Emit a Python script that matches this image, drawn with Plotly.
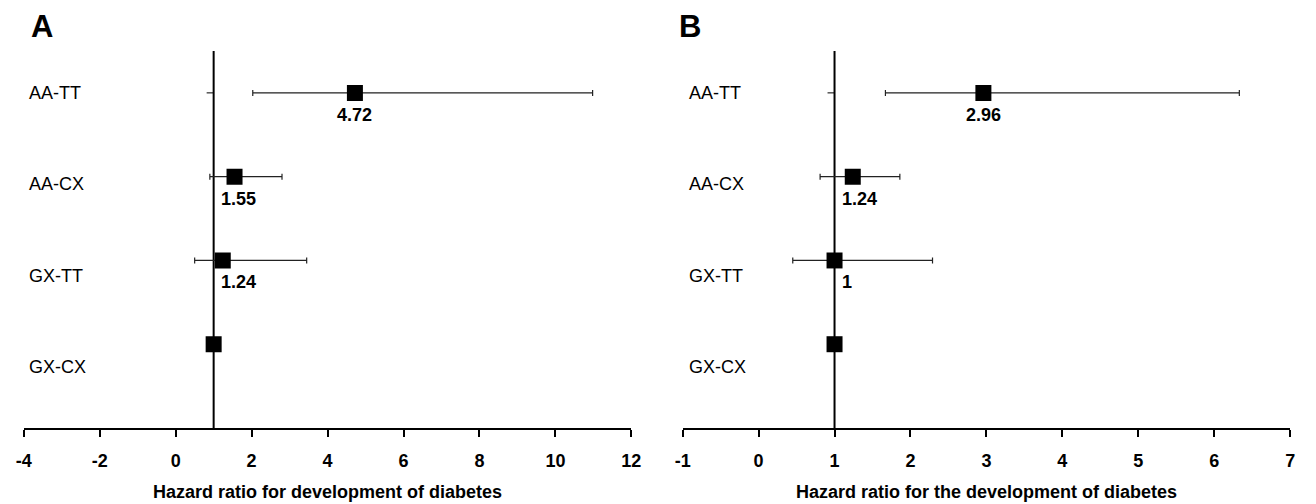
import plotly.graph_objects as go

# ---- data ----
categories = ["AA-TT", "AA-CX", "GX-TT", "GX-CX"]

a_hr = [4.72, 1.55, 1.24, 1.0]
a_lower = [2.03, 0.90, 0.50, None]
a_upper = [10.98, 2.80, 3.45, None]
a_labels = ["4.72", "1.55", "1.24", ""]

b_hr = [2.96, 1.24, 1.0, 1.0]
b_lower = [1.67, 0.81, 0.45, None]
b_upper = [6.33, 1.86, 2.29, None]
b_labels = ["2.96", "1.24", "1", ""]

a_ticks = [-4, -2, 0, 2, 4, 6, 8, 10, 12]
b_ticks = [-1, 0, 1, 2, 3, 4, 5, 6, 7]
a_title = "Hazard ratio for development of diabetes"
b_title = "Hazard ratio for the development of diabetes"
ref_value = 1

W, H = 1316, 504
FONT = "Liberation Sans, Arial, sans-serif"

n = len(categories)
rows = [n - i for i in range(n)]
label_rows = [n - i * 1.09 for i in range(n)]

fig = go.Figure()

panels = [
    dict(hr=a_hr, lo=a_lower, hi=a_upper, lab=a_labels, ticks=a_ticks,
         title=a_title, letter="A", xa="x", ya="y", dom=[16 / W, 632 / W],
         catx=19 / W, letx=21 / W),
    dict(hr=b_hr, lo=b_lower, hi=b_upper, lab=b_labels, ticks=b_ticks,
         title=b_title, letter="B", xa="x2", ya="y2", dom=[684 / W, 1300 / W],
         catx=688 / W, letx=678 / W),
]

ydom = [(H - 428) / H, (H - 51) / H]
annotations = []
shapes = []

for k, p in enumerate(panels):
    plus = [(h - v) if h is not None else 0 for v, h in zip(p["hr"], p["hi"])]
    minus = [(v - l) if l is not None else 0 for v, l in zip(p["hr"], p["lo"])]
    fig.add_trace(go.Scatter(
        x=p["hr"], y=rows, mode="markers",
        marker=dict(symbol="square", size=16, color="black"),
        error_x=dict(type="data", symmetric=False, array=plus, arrayminus=minus,
                     color="#222", thickness=1.2, width=3),
        xaxis=p["xa"], yaxis=p["ya"], showlegend=False, hoverinfo="skip",
    ))
    rng = [p["ticks"][0], p["ticks"][-1]]
    span = rng[1] - rng[0]
    # value labels
    for v, r, t in zip(p["hr"], rows, p["lab"]):
        if not t:
            continue
        if (v - ref_value) / span < 0.05:
            annotations.append(dict(x=ref_value, y=r, xref=p["xa"], yref=p["ya"],
                                    text=t, showarrow=False, xanchor="left",
                                    xshift=5, yshift=-22,
                                    font=dict(family=FONT, size=18, color="black", weight="bold")))
        else:
            annotations.append(dict(x=v, y=r, xref=p["xa"], yref=p["ya"],
                                    text=t, showarrow=False, xanchor="center",
                                    yshift=-22,
                                    font=dict(family=FONT, size=18, color="black", weight="bold")))
    # category labels
    for c, ly in zip(categories, label_rows):
        annotations.append(dict(x=p["catx"], y=ly, xref="paper", yref=p["ya"],
                                text=c, showarrow=False, xanchor="left", yanchor="middle",
                                font=dict(family=FONT, size=18, color="black")))
    # panel letter
    annotations.append(dict(x=p["letx"], y=(H - 26) / H, xref="paper", yref="paper",
                            text=p["letter"], showarrow=False, xanchor="left", yanchor="middle",
                            font=dict(family=FONT, size=31, color="black", weight="bold")))
    # axis title
    annotations.append(dict(x=(p["dom"][0] + p["dom"][1]) / 2, y=(H - 492) / H,
                            xref="paper", yref="paper", text=p["title"], showarrow=False,
                            xanchor="center", yanchor="middle",
                            font=dict(family=FONT, size=18, color="black", weight="bold")))
    # reference line
    shapes.append(dict(type="line", x0=ref_value, x1=ref_value, y0=0, y1=4.5,
                       xref=p["xa"], yref=p["ya"], layer="below",
                       line=dict(color="black", width=2)))
    # small tick on the reference line at the top row
    shapes.append(dict(type="line", xsizemode="pixel", xanchor=ref_value, x0=-7, x1=0,
                       y0=rows[0], y1=rows[0], xref=p["xa"], yref=p["ya"], layer="below",
                       line=dict(color="black", width=1)))

    xkey = "xaxis" if k == 0 else "xaxis2"
    ykey = "yaxis" if k == 0 else "yaxis2"
    fig.update_layout(**{
        xkey: dict(domain=p["dom"], range=rng, tickvals=p["ticks"],
                   ticktext=[str(t) for t in p["ticks"]],
                   showline=True, linecolor="black", linewidth=1.5,
                   ticks="outside", ticklen=7, tickwidth=1.5, tickcolor="black",
                   ticklabelstandoff=9,
                   showgrid=False, zeroline=False, anchor=p["ya"],
                   tickfont=dict(family=FONT, size=18, color="black", weight="bold")),
        ykey: dict(domain=ydom, range=[0, 4.5], visible=False, anchor=p["xa"],
                   showgrid=False, zeroline=False),
    })

fig.update_layout(
    width=W, height=H, margin=dict(l=0, r=0, t=0, b=0),
    paper_bgcolor="white", plot_bgcolor="white",
    annotations=annotations, shapes=shapes,
)

fig.write_html("out.html")
